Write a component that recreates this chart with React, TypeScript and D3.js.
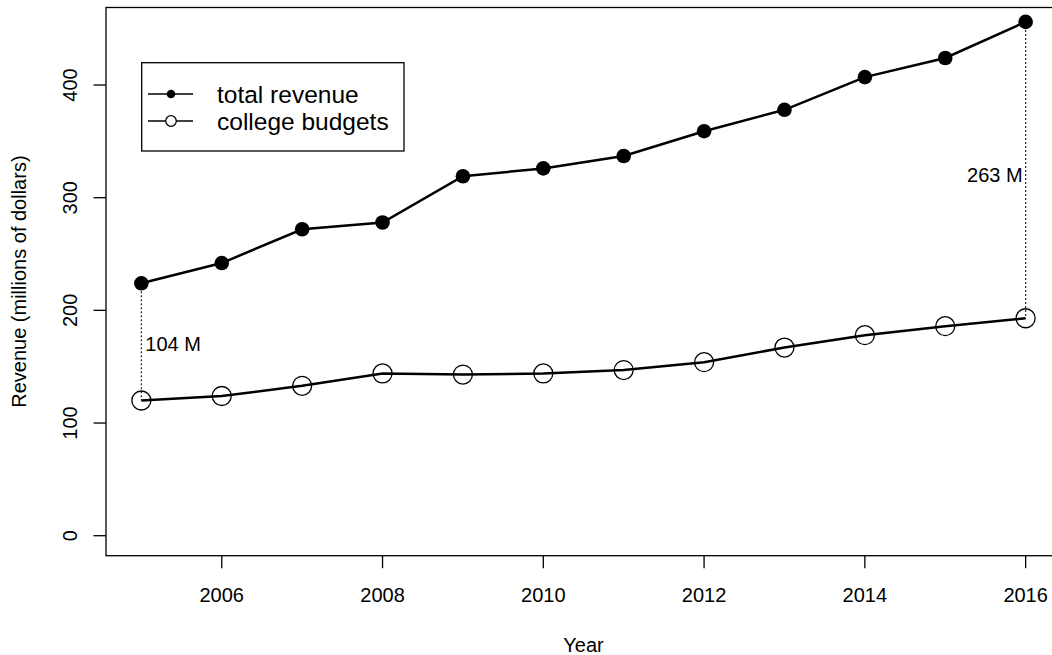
import React from "react";
import * as d3 from "d3";

const years = [2005, 2006, 2007, 2008, 2009, 2010, 2011, 2012, 2013, 2014, 2015, 2016];
const totalRevenue = [224, 242, 272, 278, 319, 326, 337, 359, 378, 407, 424, 456];
const collegeBudgets = [120, 124, 133, 144, 143, 144, 147, 154, 167, 178, 186, 193];
const xTicks = [2006, 2008, 2010, 2012, 2014, 2016];
const yTicks = [0, 100, 200, 300, 400];
const seriesNames = ["total revenue", "college budgets"];

const W = 1052, H = 655;
const L = 106, R = 1061, T = 7.5, B = 555.7;
const FONT = "'Liberation Sans', Arial, Helvetica, sans-serif";
const FS = 20;

export default function App() {
  const x = d3.scaleLinear().domain([2004.56, 2016.44]).range([L, R]);
  const y = d3.scaleLinear().domain([-17.75, 468.8]).range([B, T]);
  const line = d3.line<number>().x((_, i) => x(years[i])).y((d) => y(d));
  const n = years.length - 1;
  const gap0 = totalRevenue[0] - collegeBudgets[0];
  const gapN = totalRevenue[n] - collegeBudgets[n];
  return (
    <svg width={W} height={H} style={{ position: "absolute", left: 0, top: 0 }} fontFamily={FONT}>
      <rect width={W} height={H} fill="white" />
      <rect x={L} y={T} width={R - L} height={B - T} fill="none" stroke="#000" strokeWidth={1.3} />
      {xTicks.map((t) => (
        <g key={t}>
          <line x1={x(t)} x2={x(t)} y1={B} y2={B + 12.5} stroke="#000" strokeWidth={1.3} />
          <text x={x(t)} y={601.5} fontSize={FS} textAnchor="middle">{t}</text>
        </g>
      ))}
      {yTicks.map((t) => (
        <g key={t}>
          <line x1={L - 12.5} x2={L} y1={y(t)} y2={y(t)} stroke="#000" strokeWidth={1.3} />
          <text transform={`translate(77,${y(t)}) rotate(-90)`} fontSize={FS} textAnchor="middle">{t}</text>
        </g>
      ))}
      <text x={x(2010.5)} y={651.5} fontSize={FS} textAnchor="middle">Year</text>
      <text transform={`translate(26,${(T + B) / 2}) rotate(-90)`} fontSize={FS} textAnchor="middle">Revenue (millions of dollars)</text>

      <line x1={x(years[0])} x2={x(years[0])} y1={y(totalRevenue[0])} y2={y(collegeBudgets[0])} stroke="#333" strokeWidth={1.3} strokeDasharray="2,2" />
      <line x1={x(years[n])} x2={x(years[n])} y1={y(totalRevenue[n])} y2={y(collegeBudgets[n])} stroke="#333" strokeWidth={1.3} strokeDasharray="2,2" />
      <text x={x(years[0]) + 4} y={351} fontSize={FS}>{`${gap0} M`}</text>
      <text x={x(years[n]) - 3} y={182} fontSize={FS} textAnchor="end">{`${gapN} M`}</text>

      <path d={line(totalRevenue) || ""} fill="none" stroke="#000" strokeWidth={2.5} />
      <path d={line(collegeBudgets) || ""} fill="none" stroke="#000" strokeWidth={2.5} />
      {totalRevenue.map((v, i) => (
        <circle key={"t" + i} cx={x(years[i])} cy={y(v)} r={7.3} fill="#000" />
      ))}
      {collegeBudgets.map((v, i) => (
        <circle key={"c" + i} cx={x(years[i])} cy={y(v)} r={9.5} fill="none" stroke="#000" strokeWidth={1.3} />
      ))}

      <rect x={141.7} y={62.7} width={262.3} height={88.3} fill="white" stroke="#000" strokeWidth={1.3} />
      {seriesNames.map((s, i) => {
        const ly = 94 + i * 27;
        return (
          <g key={s}>
            <line x1={148} x2={193} y1={ly} y2={ly} stroke="#000" strokeWidth={1.3} />
            {i === 0 ? (
              <circle cx={171} cy={ly} r={4.3} fill="#000" />
            ) : (
              <circle cx={171} cy={ly} r={5.3} fill="white" stroke="#000" strokeWidth={1.3} />
            )}
            <text x={217} y={ly + 8.5} fontSize={24.5}>{s}</text>
          </g>
        );
      })}
    </svg>
  );
}
